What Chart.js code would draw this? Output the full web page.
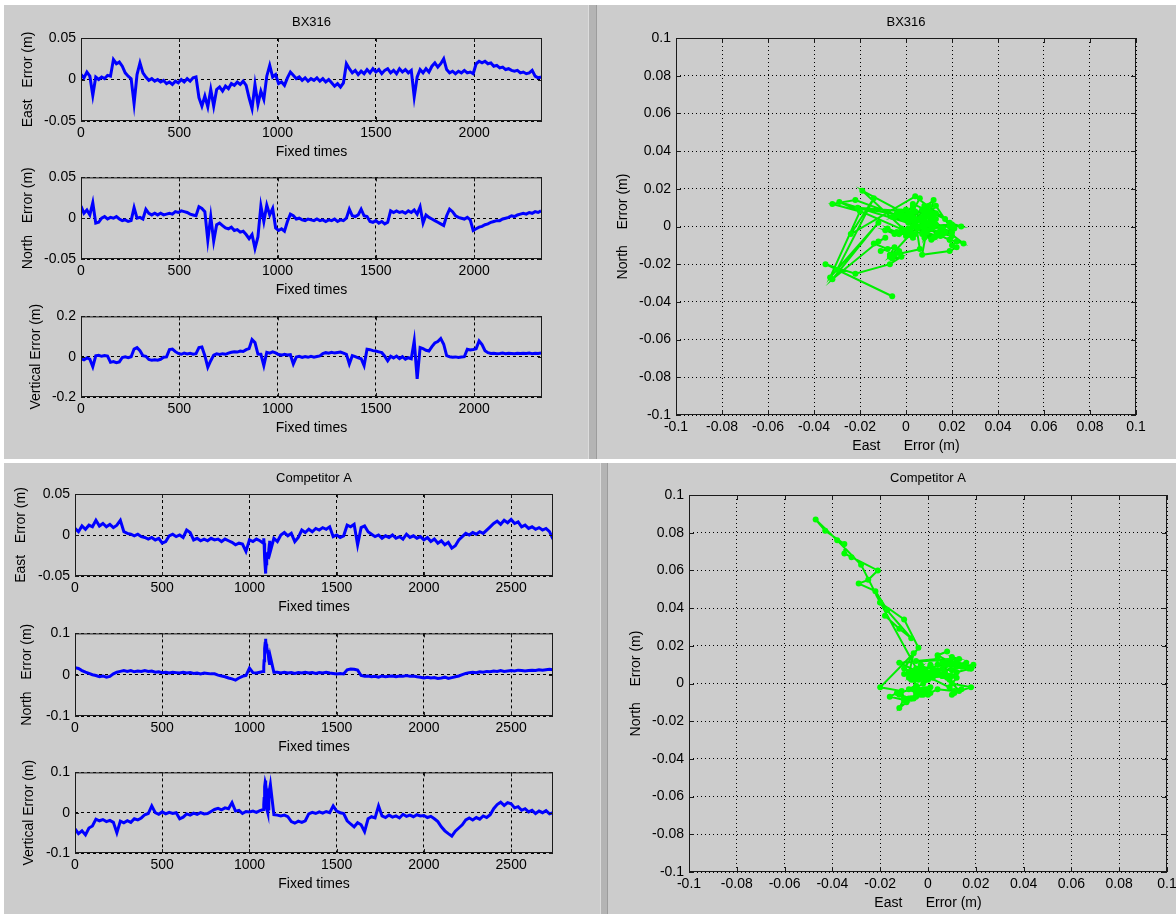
<!DOCTYPE html>
<html>
<head>
<meta charset="utf-8">
<script src="https://cdn.jsdelivr.net/npm/chart.js@4.4.1/dist/chart.umd.min.js"></script>
<style>
  html, body { margin: 0; padding: 0; }
  body { width: 1176px; height: 914px; position: relative; overflow: hidden; background: #fff; }
  .panel { position: absolute; background: #cccccc; }
  .split { position: absolute; background: #b4b4b4; border-left: 1px solid #dcdcdc; border-right: 1px solid #9c9c9c; }
  canvas { position: absolute; }
</style>
</head>
<body>
<div class="panel" style="left:4px;top:5px;width:584px;height:454px"></div>
<div class="split" style="left:588px;top:5px;width:7px;height:454px"></div>
<div class="panel" style="left:597px;top:5px;width:579px;height:454px"></div>
<div class="panel" style="left:4px;top:463px;width:596px;height:451px"></div>
<div class="split" style="left:600px;top:463px;width:6px;height:451px"></div>
<div class="panel" style="left:608px;top:463px;width:568px;height:451px"></div>
<script>
// BX316: fixed times and position errors (m)
const bxTimes = [
  0, 15, 30, 45, 60, 75, 90, 105, 120, 135,
  150, 165, 180, 195, 210, 225, 240, 255, 270, 285,
  300, 315, 330, 345, 360, 375, 390, 405, 420, 435,
  450, 465, 480, 495, 510, 525, 540, 555, 570, 585,
  600, 615, 630, 645, 660, 675, 690, 705, 720, 735,
  750, 765, 780, 795, 810, 825, 840, 855, 870, 885,
  900, 915, 930, 945, 960, 975, 990, 1005, 1020, 1035,
  1050, 1065, 1080, 1095, 1110, 1125, 1140, 1155, 1170, 1185,
  1200, 1215, 1230, 1245, 1260, 1275, 1290, 1305, 1320, 1335,
  1350, 1365, 1380, 1395, 1410, 1425, 1440, 1455, 1470, 1485,
  1500, 1515, 1530, 1545, 1560, 1575, 1590, 1605, 1620, 1635,
  1650, 1665, 1680, 1695, 1710, 1725, 1740, 1755, 1770, 1785,
  1800, 1815, 1830, 1845, 1860, 1875, 1890, 1905, 1920, 1935,
  1950, 1965, 1980, 1995, 2010, 2025, 2040, 2055, 2070, 2085,
  2100, 2115, 2130, 2145, 2160, 2175, 2190, 2205, 2220, 2235,
  2250, 2265, 2280, 2295, 2310, 2325, 2340
];
const bxEast = [
  0.006, 0.002, 0.009, 0.004, -0.019, 0.003, 0.0, 0.003, 0.001, 0.005,
  0.004, 0.024, 0.019, 0.021, 0.016, 0.008, 0.004, 0.001, -0.029, 0.006,
  0.02, 0.008, 0.003, -0.001, 0.001, -0.002, 0.0, -0.003, -0.001, -0.005,
  -0.003, -0.006, -0.002, -0.004, 0.0, -0.003, 0.001, -0.002, 0.002, 0.003,
  -0.022, -0.032, -0.02, -0.033, -0.012, -0.032, -0.012, -0.009, -0.014, -0.008,
  -0.011, -0.005, -0.007, -0.003, -0.006, -0.002, -0.007, -0.022, -0.035, -0.006,
  -0.03, -0.014, -0.024, 0.004, 0.017, 0.003, 0.006, -0.005, -0.003, -0.007,
  0.002, 0.009, 0.005, 0.001, 0.003, -0.001, 0.002, -0.002, 0.001, -0.001,
  0.002, -0.002, 0.001, -0.003, 0.0, -0.004, -0.008, -0.005, -0.009, -0.004,
  0.019, 0.013, 0.008, 0.011, 0.006, 0.01, 0.007, 0.012, 0.008, 0.013,
  0.009, 0.012, 0.007, 0.011, 0.013, 0.008, 0.011, 0.007, 0.013, 0.009,
  0.012, 0.008, 0.011, -0.021, 0.003, 0.012, 0.008, 0.013, 0.009, 0.016,
  0.02, 0.015, 0.019, 0.025, 0.012, 0.008, 0.01, 0.007, 0.01, 0.008,
  0.011, 0.008, 0.009, 0.007, 0.019, 0.022, 0.02, 0.022, 0.019, 0.02,
  0.016, 0.017, 0.014, 0.015, 0.012, 0.013, 0.011, 0.01, 0.011, 0.008,
  0.009, 0.007, 0.008, 0.011, 0.004, 0.002, 0.003
];
const bxNorth = [
  0.015, 0.006, 0.01, 0.004, 0.019, -0.006, -0.005, 0.0, 0.002, -0.001,
  0.001, 0.0, 0.002, -0.001, -0.003, -0.002, -0.004, -0.003, 0.013, 0.0,
  0.001, -0.001, 0.011, 0.006, 0.004, 0.006, 0.004, 0.006, 0.004, 0.005,
  0.006, 0.005, 0.008, 0.007, 0.009, 0.008, 0.007, 0.005, 0.004, 0.003,
  0.014, 0.012, 0.008, -0.027, 0.002, -0.028, -0.008, -0.006, -0.009, -0.012,
  -0.013, -0.011, -0.015, -0.014, -0.017, -0.016, -0.02, -0.025, -0.02, -0.037,
  -0.023, 0.015, -0.004, 0.016, 0.004, 0.012, -0.012, -0.015, -0.013, -0.016,
  -0.004, 0.005, 0.003, -0.001, 0.0, -0.002, -0.003, -0.001, -0.002, -0.003,
  -0.001, -0.003, -0.002, -0.004, -0.002, -0.003, -0.001, -0.004, -0.002, -0.003,
  0.0, 0.011, 0.003, 0.002, 0.004, 0.011, 0.003, 0.002, -0.004, -0.005,
  -0.003, -0.006, -0.004, -0.007, -0.005, 0.009, 0.007, 0.009, 0.007, 0.008,
  0.006, 0.009, 0.007, 0.01, 0.005, 0.014, -0.006, 0.004, 0.001, -0.001,
  -0.003, -0.005, -0.007, -0.009, 0.003, 0.011, 0.008, 0.003, 0.001, 0.0,
  -0.001, 0.001, -0.002, -0.015, -0.013, -0.011, -0.01, -0.008, -0.007, -0.005,
  -0.004, -0.003, -0.003, -0.001, 0.0, 0.001, 0.003, 0.002, 0.004, 0.005,
  0.006, 0.005, 0.007, 0.006, 0.008, 0.007, 0.009
];
const bxVertical = [
  -0.01, -0.016, -0.006, -0.012, -0.05, 0.004, 0.007, 0.002, 0.006, 0.003,
  -0.028, -0.024, -0.03, -0.026, -0.004, -0.001, -0.005, 0.0, 0.038, 0.045,
  0.03, 0.005, 0.002, -0.014, -0.018, -0.015, -0.017, -0.013, -0.003, -0.001,
  0.035, 0.038, 0.025, 0.016, 0.012, 0.018, 0.014, 0.017, 0.012, 0.015,
  0.045, 0.048, 0.005, -0.052, -0.02, 0.008, 0.014, 0.011, 0.015, 0.012,
  0.018, 0.022, 0.025, 0.023, 0.028, 0.026, 0.035, 0.04, 0.085, 0.07,
  0.013, 0.012, -0.044, 0.022, 0.018, 0.024, 0.019, 0.011, 0.008, 0.012,
  0.009, 0.01, -0.036, -0.002, 0.002, -0.004, 0.001, -0.003, 0.002, -0.002,
  0.001, 0.004, 0.015, 0.02, 0.017, 0.022, 0.018, 0.021, 0.023, 0.018,
  0.012, -0.036, 0.005, 0.0, -0.006, -0.01, -0.044, 0.037, 0.035, 0.03,
  0.028, 0.024, 0.02, 0.003, -0.02, 0.002, -0.006, 0.003, -0.01, 0.0,
  -0.012, -0.005, -0.01, 0.078, -0.11, 0.045, 0.04, 0.032, 0.028, 0.05,
  0.068, 0.075, 0.09, 0.062, 0.005, 0.0, -0.003, -0.001, -0.004, -0.002,
  0.0, 0.037, 0.033, 0.036, 0.04, 0.078, 0.06, 0.03, 0.02, 0.016,
  0.017, 0.015, 0.016, 0.018, 0.015, 0.017, 0.016, 0.015, 0.017, 0.016,
  0.017, 0.016, 0.018, 0.015, 0.017, 0.016, 0.018
];

// Competitor A: fixed times and position errors (m)
const compTimes = [
  0, 20, 40, 60, 80, 100, 120, 140, 160, 180,
  200, 220, 240, 260, 280, 300, 320, 340, 360, 380,
  400, 420, 440, 460, 480, 500, 520, 540, 560, 580,
  600, 620, 640, 660, 680, 700, 720, 740, 760, 780,
  800, 820, 840, 860, 880, 900, 920, 940, 960, 980,
  1000, 1020, 1040, 1060, 1080, 1082, 1084, 1086, 1088, 1090,
  1092, 1094, 1096, 1098, 1100, 1102, 1104, 1106, 1108, 1110,
  1112, 1114, 1116, 1120, 1140, 1160, 1180,
  1200, 1220, 1240, 1260, 1280, 1300, 1320, 1340, 1360, 1380,
  1400, 1420, 1440, 1460, 1480, 1500, 1520, 1540, 1560, 1580,
  1600, 1620, 1640, 1660, 1680, 1700, 1720, 1740, 1760, 1780,
  1800, 1820, 1840, 1860, 1880, 1900, 1920, 1940, 1960, 1980,
  2000, 2020, 2040, 2060, 2080, 2100, 2120, 2140, 2160, 2180,
  2200, 2220, 2240, 2260, 2280, 2300, 2320, 2340, 2360, 2380,
  2400, 2420, 2440, 2460, 2480, 2500, 2520, 2540, 2560, 2580,
  2600, 2620, 2640, 2660, 2680, 2700, 2720, 2740
];
const compEast = [
  0.008, 0.004, 0.011, 0.007, 0.012, 0.01, 0.018, 0.011, 0.014, 0.01,
  0.013, 0.009, 0.012, 0.018, 0.004, 0.002, 0.001, -0.001, 0.001, -0.002,
  -0.003, -0.005, -0.003, -0.006, -0.004, -0.01, -0.008, -0.001, 0.001, -0.002,
  0.0, -0.003, 0.006, 0.003, -0.006, -0.004, -0.007, -0.005, -0.007, -0.004,
  -0.006, -0.005, -0.008, -0.005, -0.007, -0.009, -0.012, -0.01, -0.011, -0.02,
  -0.006, -0.008, -0.005, -0.007, -0.01, -0.004, -0.01, -0.02, -0.028, -0.038,
  -0.047, -0.043, -0.035, -0.035, -0.032, -0.021, -0.025, -0.029, -0.022, -0.017,
  -0.018, -0.012, -0.007, -0.02, -0.004, -0.008, 0.0,
  0.003, -0.001, 0.002, -0.008, -0.003, 0.006, 0.003, 0.007, 0.004, 0.008,
  0.006, 0.009, 0.007, 0.01, -0.002, 0.0, -0.003, -0.001, 0.012, 0.01,
  0.013, -0.012, 0.009, 0.011, 0.004, 0.001, -0.002, 0.0, -0.004, -0.001,
  -0.003, 0.0, -0.004, -0.002, -0.005, 0.001, -0.003, -0.001, -0.004, -0.002,
  -0.006, -0.003, -0.008, -0.005, -0.01, -0.007, -0.012, -0.009, -0.016, -0.013,
  -0.006, -0.002, 0.002, 0.0, 0.003, 0.001, 0.004, 0.002, 0.006, 0.01,
  0.014, 0.017, 0.013, 0.018, 0.015, 0.019, 0.014, 0.016, 0.01, 0.012,
  0.008, 0.01, 0.007, 0.009, 0.006, 0.008, 0.004, -0.005
];
const compNorth = [
  0.017, 0.015, 0.01, 0.006, 0.003, 0.0, -0.002, -0.005, -0.003, -0.006,
  -0.004, 0.002, 0.006, 0.008, 0.01, 0.008, 0.01, 0.007, 0.009, 0.008,
  0.01, 0.008, 0.009, 0.006, 0.007, 0.005, 0.006, 0.004, 0.006, 0.005,
  0.004, 0.006, 0.004, 0.005, 0.003, 0.004, 0.002, 0.004, 0.003, 0.002,
  0.002, -0.001, -0.003, -0.005, -0.008, -0.01, -0.013, -0.008, -0.004, -0.002,
  0.016, 0.005, 0.004, 0.006, 0.008, 0.019, 0.034, 0.043, 0.063, 0.076,
  0.087, 0.081, 0.074, 0.069, 0.067, 0.06, 0.055, 0.053, 0.049, 0.039,
  0.036, 0.029, 0.024, 0.043, 0.006, 0.006, 0.004,
  0.006, 0.004, 0.005, 0.003, 0.005, 0.004, 0.006, 0.004, 0.005, 0.003,
  0.005, 0.004, 0.006, 0.004, 0.003, 0.002, 0.003, 0.002, 0.012, 0.014,
  0.013, 0.011, -0.002, -0.004, -0.003, -0.005, -0.004, -0.006, -0.003, -0.005,
  -0.004, -0.003, -0.005, -0.003, -0.004, -0.002, -0.004, -0.003, -0.005, -0.006,
  -0.008, -0.006, -0.008, -0.007, -0.009, -0.008, -0.006, -0.009, -0.007, -0.005,
  -0.003, 0.0, 0.003, 0.005, 0.006, 0.005, 0.007, 0.006, 0.008, 0.007,
  0.009, 0.008, 0.01, 0.008, 0.009, 0.01, 0.009, 0.011, 0.01, 0.009,
  0.01, 0.011, 0.01, 0.012, 0.011, 0.012, 0.013, 0.012
];
const compVertical = [
  -0.04, -0.052, -0.045, -0.055, -0.038, -0.033, -0.016, -0.02, -0.017, -0.022,
  -0.019, -0.024, -0.05, -0.021, -0.025, -0.02, -0.024, -0.015, -0.018, -0.013,
  -0.005, -0.002, 0.017, 0.0, -0.004, 0.002, -0.003, 0.001, -0.002, 0.0,
  -0.015, -0.011, -0.003, -0.006, -0.001, -0.004, 0.0, -0.003, -0.002, 0.003,
  0.008, 0.011, 0.007, 0.012, 0.01, 0.025, 0.004, 0.006, -0.002, 0.003,
  0.002, 0.004, 0.001, 0.005, 0.008, 0.02, 0.035, 0.05, 0.065, 0.075,
  0.08, 0.07, 0.06, 0.03, 0.01, 0.005, 0.002, 0.0, 0.01, 0.02,
  0.035, 0.05, 0.06, 0.07, -0.005, -0.006, -0.008,
  -0.006, -0.01, -0.022, -0.026, -0.021, -0.024, -0.02, -0.003, 0.001, -0.002,
  0.002, -0.001, 0.003, 0.0, 0.017, 0.004, 0.0, -0.002, -0.02, -0.028,
  -0.035, -0.025, -0.03, -0.047, -0.015, -0.01, -0.013, 0.017, -0.008, -0.012,
  -0.006, -0.011, -0.008, -0.013, -0.004, -0.009, -0.006, -0.01, -0.005, -0.008,
  -0.007, -0.012, -0.009, -0.015, -0.022, -0.035, -0.045, -0.052, -0.058, -0.046,
  -0.038, -0.03, -0.018, -0.013, -0.018, -0.012, -0.016, -0.008, -0.012, -0.005,
  0.01, 0.02, 0.026, 0.018, 0.025, 0.022, 0.012, 0.015, 0.006, 0.01,
  0.002, 0.006, -0.002, 0.004, 0.0, 0.005, -0.003, 0.0
];

// axis limits and ticks
const bxTimeMax = 2345;
const compTimeMax = 2740;
const bxTimeTicks = [0, 500, 1000, 1500, 2000];
const compTimeTicks = [0, 500, 1000, 1500, 2000, 2500];
const horizTicks = [-0.05, 0, 0.05];
const tenthTicks = [-0.1, 0, 0.1];
const bxVertTicks = [-0.2, 0, 0.2];
const planeTicks = [-0.1, -0.08, -0.06, -0.04, -0.02, 0, 0.02, 0.04, 0.06, 0.08, 0.1];

// plot boxes on the page (x, y, w, h = plot area; L/T/R/B = room around it)
const G = {
  bxE: { x: 81, y: 38, w: 461, h: 83, L: 77, T: 30, R: 14, B: 40, ty: 17, tp: 7.5 },
  bxN: { x: 81, y: 176, w: 461, h: 83, L: 77, T: 12, R: 14, B: 40, ty: 17 },
  bxU: { x: 81, y: 315, w: 461, h: 82, L: 77, T: 12, R: 14, B: 40, ty: 25 },
  bxP: { x: 676, y: 38, w: 460, h: 377, L: 76, T: 30, R: 20, B: 40, ty: 16, tp: 7.5 },
  cE: { x: 75, y: 494, w: 478, h: 82, L: 71, T: 30, R: 14, B: 40, ty: 10, tp: 7.5 },
  cN: { x: 75, y: 632, w: 478, h: 84, L: 71, T: 12, R: 14, B: 40, ty: 16 },
  cU: { x: 75, y: 771, w: 478, h: 82, L: 71, T: 12, R: 14, B: 40, ty: 18 },
  cP: { x: 689, y: 495, w: 478, h: 377, L: 76, T: 30, R: 20, B: 40, ty: 16, tp: 6.5 }
};

Chart.defaults.font.family = '"Liberation Sans", Arial, Helvetica, sans-serif';
Chart.defaults.color = '#000';

const fmt = v => String(Number(v.toFixed(3)));

// box round the axes plus the small inward tick marks
const framePlugin = {
  id: 'frame',
  afterDraw(chart, args, opts) {
    const { ctx, chartArea: a } = chart;
    const x = chart.scales.x, y = chart.scales.y;
    const len = opts.tick || 4;
    ctx.save();
    ctx.strokeStyle = '#1a1a1a';
    ctx.lineWidth = 1;
    ctx.setLineDash([]);
    ctx.beginPath();
    x.ticks.forEach(t => {
      const p = Math.round(x.getPixelForValue(t.value)) + 0.5;
      ctx.moveTo(p, a.bottom); ctx.lineTo(p, a.bottom - len);
      ctx.moveTo(p, a.top); ctx.lineTo(p, a.top + len);
    });
    y.ticks.forEach(t => {
      const p = Math.round(y.getPixelForValue(t.value)) + 0.5;
      ctx.moveTo(a.left, p); ctx.lineTo(a.left + len, p);
      ctx.moveTo(a.right, p); ctx.lineTo(a.right - len, p);
    });
    ctx.stroke();
    ctx.strokeRect(a.left + 0.5, a.top + 0.5, a.right - a.left - 1, a.bottom - a.top - 1);
    ctx.restore();
  }
};
Chart.register(framePlugin);

function makeCanvas(g) {
  const c = document.createElement('canvas');
  const w = g.L + g.w + g.R, h = g.T + g.h + g.B;
  c.width = w;
  c.height = h;
  c.style.left = (g.x - g.L) + 'px';
  c.style.top = (g.y - g.T) + 'px';
  c.style.width = w + 'px';
  c.style.height = h + 'px';
  document.body.appendChild(c);
  return c;
}

function axis(g, horizontal, s) {
  return {
    type: 'linear',
    min: s.min,
    max: s.max,
    afterBuildTicks: sc => { sc.ticks = s.ticks.map(v => ({ value: v })); },
    afterFit: sc => { if (horizontal) sc.height = g.B; else sc.width = g.L; },
    grid: { color: '#000', lineWidth: 1, drawTicks: false },
    border: { display: false, dash: s.dash },
    ticks: { font: { size: 14 }, color: '#000', padding: horizontal ? 4 : 5, maxRotation: 0, autoSkip: false, callback: fmt },
    title: {
      display: true,
      text: s.title,
      color: '#000',
      font: { size: 14, lineHeight: 1 },
      padding: horizontal ? { top: 0, bottom: 2 } : { top: g.ty, bottom: 0 }
    }
  };
}

function baseOptions(g, title, tick) {
  return {
    responsive: false,
    animation: false,
    events: [],
    layout: { padding: { top: title ? 0 : g.T, right: g.R, left: 0, bottom: 0 } },
    plugins: {
      legend: { display: false },
      tooltip: { enabled: false },
      title: title ? {
        display: true, text: title, color: '#000', fullSize: false,
        font: { size: 13, lineHeight: 1, weight: 'normal' },
        padding: { top: g.tp, bottom: g.T - 13 - g.tp }
      } : { display: false },
      frame: { tick: tick }
    }
  };
}

function seriesChart(g, times, vals, xs, ys, title) {
  const opts = baseOptions(g, title, 4);
  opts.scales = { x: axis(g, true, xs), y: axis(g, false, ys) };
  new Chart(makeCanvas(g), {
    type: 'line',
    data: {
      datasets: [{
        data: times.map((t, i) => ({ x: t, y: vals[i] })),
        borderColor: '#0000ff',
        borderWidth: 3,
        pointRadius: 0,
        tension: 0
      }]
    },
    options: opts
  });
}

function planeChart(g, east, north, title) {
  const opts = baseOptions(g, title, 5);
  const dot = [1, 3];
  opts.scales = {
    x: axis(g, true, { min: -0.1, max: 0.1, ticks: planeTicks, dash: dot, title: 'East      Error (m)' }),
    y: axis(g, false, { min: -0.1, max: 0.1, ticks: planeTicks, dash: dot, title: 'North    Error (m)' })
  };
  new Chart(makeCanvas(g), {
    type: 'scatter',
    data: {
      datasets: [{
        data: east.map((e, i) => ({ x: e, y: north[i] })),
        showLine: true,
        borderColor: '#00ee00',
        borderWidth: 2,
        pointRadius: 3,
        pointBackgroundColor: '#00ff00',
        pointBorderWidth: 0
      }]
    },
    options: opts
  });
}

const dash = [3, 3];
const bxX = { min: 0, max: bxTimeMax, ticks: bxTimeTicks, dash: dash, title: 'Fixed times' };
const cX = { min: 0, max: compTimeMax, ticks: compTimeTicks, dash: dash, title: 'Fixed times' };

seriesChart(G.bxE, bxTimes, bxEast, bxX, { min: -0.05, max: 0.05, ticks: horizTicks, dash: dash, title: 'East   Error (m)' }, 'BX316');
seriesChart(G.bxN, bxTimes, bxNorth, bxX, { min: -0.05, max: 0.05, ticks: horizTicks, dash: dash, title: 'North   Error (m)' });
seriesChart(G.bxU, bxTimes, bxVertical, bxX, { min: -0.2, max: 0.2, ticks: bxVertTicks, dash: dash, title: 'Vertical Error (m)' });
planeChart(G.bxP, bxEast, bxNorth, 'BX316');

seriesChart(G.cE, compTimes, compEast, cX, { min: -0.05, max: 0.05, ticks: horizTicks, dash: dash, title: 'East   Error (m)' }, 'Competitor A');
seriesChart(G.cN, compTimes, compNorth, cX, { min: -0.1, max: 0.1, ticks: tenthTicks, dash: dash, title: 'North   Error (m)' });
seriesChart(G.cU, compTimes, compVertical, cX, { min: -0.1, max: 0.1, ticks: tenthTicks, dash: dash, title: 'Vertical Error (m)' });
planeChart(G.cP, compEast, compNorth, 'Competitor A');
</script>
</body>
</html>
